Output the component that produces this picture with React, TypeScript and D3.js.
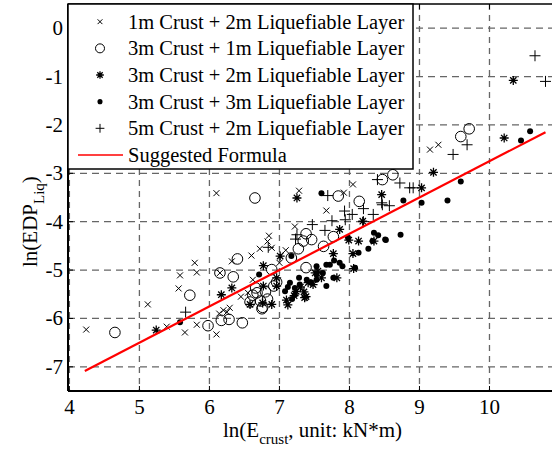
import React from "react";
import * as d3 from "d3";

const xTicks = [4, 5, 6, 7, 8, 9, 10];
const yTicks = [0, -1, -2, -3, -4, -5, -6, -7];

const seriesNames = [
  "1m Crust + 2m Liquefiable Layer",
  "3m Crust + 1m Liquefiable Layer",
  "3m Crust + 2m Liquefiable Layer",
  "3m Crust + 3m Liquefiable Layer",
  "5m Crust + 2m Liquefiable Layer",
];
const formulaName = "Suggested Formula";

const crust1Liq2: [number, number][] = [
  [4.24, -6.23], [5.12, -5.71], [5.39, -6.17], [5.65, -6.29], [5.82, -6.13], [5.58, -5.11],
  [5.56, -5.38], [5.79, -4.85], [5.82, -5.05], [6.10, -3.41], [7.28, -3.36], [6.32, -4.82],
  [6.60, -4.70], [6.72, -4.56], [6.83, -4.41], [6.85, -4.29], [6.89, -4.54], [7.09, -4.59],
  [7.22, -4.10], [7.67, -3.77], [7.92, -3.40], [8.05, -3.23], [6.15, -5.06], [6.10, -6.33],
  [6.14, -5.90], [6.25, -5.87], [6.29, -5.78], [9.15, -2.51], [9.27, -2.41], [6.55, -5.47],
  [6.45, -5.55], [6.62, -5.20], [6.20, -5.83], [7.00, -4.85],
];
const crust3Liq1: [number, number][] = [
  [4.65, -6.29], [5.72, -5.52], [5.98, -6.15], [6.17, -6.04], [6.28, -6.02], [6.47, -6.09],
  [6.58, -5.66], [6.75, -5.80], [6.65, -3.51], [6.15, -5.06], [6.34, -5.14], [6.40, -4.77],
  [6.66, -5.37], [6.68, -5.47], [6.80, -5.45], [6.83, -5.60], [6.76, -5.77], [6.73, -5.64],
  [6.89, -4.99], [6.96, -5.25], [6.92, -5.33], [7.17, -4.75], [7.27, -4.56], [7.38, -4.25],
  [7.46, -4.37], [7.34, -4.40], [7.38, -4.95], [7.63, -4.51], [7.77, -4.31], [7.84, -3.47],
  [8.14, -3.58], [8.47, -3.13], [8.62, -3.03], [9.59, -2.24], [9.71, -2.08], [6.62, -5.52],
];
const crust3Liq2: [number, number][] = [
  [5.24, -6.24], [10.34, -1.08], [10.21, -2.27], [9.20, -2.98], [9.03, -3.30], [8.46, -3.44],
  [7.25, -3.51], [7.01, -4.71], [6.77, -4.91], [6.32, -5.37], [6.17, -5.51], [6.58, -5.71],
  [6.76, -5.68], [6.89, -5.71], [7.12, -5.72], [7.38, -5.55], [7.24, -5.44], [7.41, -5.26],
  [7.51, -5.06], [7.77, -4.66], [7.86, -4.16], [7.99, -4.38], [8.13, -4.40], [8.05, -4.66],
  [8.06, -4.97], [8.19, -3.99], [8.35, -4.40], [6.96, -5.16], [7.60, -5.16], [7.82, -5.16],
  [7.48, -5.30], [7.21, -5.53], [7.36, -5.57], [7.55, -5.02], [6.96, -5.33], [6.77, -5.33],
  [7.35, -5.45], [7.10, -5.62], [7.30, -5.35],
];
const crust3Liq3: [number, number][] = [
  [5.58, -6.08], [10.58, -2.13], [10.45, -2.32], [9.59, -3.17], [9.40, -3.56], [9.03, -3.61],
  [8.77, -3.56], [8.73, -4.27], [8.52, -4.38], [7.60, -3.41], [7.17, -4.71], [6.71, -5.09],
  [7.15, -5.26], [7.22, -5.37], [7.28, -5.16], [7.29, -5.30], [7.39, -5.20], [7.22, -5.51],
  [7.08, -5.44], [7.53, -4.92], [7.53, -5.09], [7.62, -5.06], [7.67, -4.89], [7.72, -4.89],
  [7.78, -4.80], [7.86, -4.85], [7.90, -4.92], [7.53, -5.20], [7.67, -5.33], [7.77, -5.16],
  [8.08, -4.95], [7.98, -4.33], [8.13, -4.64], [8.27, -4.56], [8.33, -4.40], [8.35, -4.23],
  [8.41, -4.28], [8.51, -4.37], [7.12, -5.35], [7.18, -5.60], [7.45, -5.25],
];
const crust5Liq2: [number, number][] = [
  [5.66, -5.87], [6.84, -4.53], [7.69, -3.46], [7.93, -3.78], [8.04, -3.85], [8.20, -3.73],
  [8.34, -3.85], [8.46, -3.61], [8.40, -3.13], [7.94, -3.96], [7.75, -3.98], [7.47, -4.06],
  [7.65, -4.18], [7.25, -4.27], [7.23, -4.36], [8.20, -4.00], [8.86, -3.30], [8.91, -3.30],
  [8.72, -3.20], [8.57, -3.67], [8.47, -3.65], [9.48, -2.61], [9.68, -2.41], [10.65, -0.57],
  [10.80, -1.10],
];

// Suggested formula: ln(EDP) = a * ln(E) + b
const formulaSlope = 0.75;
const formulaIntercept = -10.25;
const formulaRange = [4.22, 10.8];

type Kind = "x" | "o" | "star" | "dot" | "plus";

function Marker({ kind, cx, cy, s = 1 }: { kind: Kind; cx: number; cy: number; s?: number }) {
  const st = { stroke: "#000", strokeWidth: 1, fill: "none" };
  if (kind === "x") {
    const h = 3 * s;
    return <path d={`M${cx - h},${cy - h}L${cx + h},${cy + h}M${cx - h},${cy + h}L${cx + h},${cy - h}`} {...st} />;
  }
  if (kind === "o") return <circle cx={cx} cy={cy} r={5.3 * s} {...st} />;
  if (kind === "dot") return <circle cx={cx} cy={cy} r={3 * s} fill="#000" />;
  if (kind === "plus") {
    const h = 5.5 * s;
    return <path d={`M${cx - h},${cy}L${cx + h},${cy}M${cx},${cy - h}L${cx},${cy + h}`} {...st} />;
  }
  const h = 4.5 * s;
  const a = h * 0.7;
  return (
    <path
      d={`M${cx - h},${cy}L${cx + h},${cy}M${cx},${cy - h}L${cx},${cy + h}M${cx - a},${cy - a}L${cx + a},${cy + a}M${cx - a},${cy + a}L${cx + a},${cy - a}`}
      stroke="#000"
      strokeWidth={1.3}
      fill="none"
    />
  );
}

export default function App() {
  const W = 552, H = 453;
  const left = 68, top = 4, bottom = 391, rightPx = 559.5;
  const x = d3.scaleLinear().domain([3.98, 11]).range([left, rightPx]);
  const y = d3.scaleLinear().domain([-7.5, 0.5]).range([bottom, top]);
  const font = "'Liberation Serif', 'Times New Roman', serif";

  const series: { data: [number, number][]; kind: Kind }[] = [
    { data: crust1Liq2, kind: "x" },
    { data: crust3Liq1, kind: "o" },
    { data: crust3Liq2, kind: "star" },
    { data: crust3Liq3, kind: "dot" },
    { data: crust5Liq2, kind: "plus" },
  ];

  const line = d3
    .line<number>()
    .x((d) => x(d))
    .y((d) => y(formulaSlope * d + formulaIntercept));

  const legendTop = 4, legendBottom = 169, legendRight = 413;
  const rowY = (i: number) => 21.7 + i * 26.65;

  return (
    <svg width={W} height={H} style={{ position: "absolute", left: 0, top: 0, background: "#fff" }}>
      <rect x={0} y={0} width={W} height={H} fill="#fff" />
      {xTicks.map((t) => (
        <line key={"gx" + t} x1={x(t)} x2={x(t)} y1={top} y2={bottom} stroke="#666" strokeWidth={1.3} strokeDasharray="6,5" />
      ))}
      {yTicks.map((t) => (
        <line key={"gy" + t} x1={left} x2={W} y1={y(t)} y2={y(t)} stroke="#666" strokeWidth={1.3} strokeDasharray="7,5" />
      ))}
      {series.map((s, i) => (
        <g key={i}>
          {s.data.map((d, j) => (
            <Marker key={j} kind={s.kind} cx={x(d[0])} cy={y(d[1])} />
          ))}
        </g>
      ))}
      <path d={line(formulaRange) || ""} stroke="#ff0000" strokeWidth={2.2} fill="none" />
      <line x1={left} x2={left} y1={top} y2={bottom} stroke="#000" strokeWidth={2} />
      <line x1={left} x2={W} y1={bottom} y2={bottom} stroke="#000" strokeWidth={2} />
      <line x1={left} x2={W} y1={top} y2={top} stroke="#000" strokeWidth={1.5} />
      {xTicks.map((t) => (
        <g key={"xt" + t}>
          <line x1={x(t)} x2={x(t)} y1={bottom} y2={bottom - 5} stroke="#000" strokeWidth={1} />
          <line x1={x(t)} x2={x(t)} y1={top} y2={top + 5} stroke="#000" strokeWidth={1} />
          <text x={x(t)} y={414} textAnchor="middle" fontFamily={font} fontSize={21} fill="#000">
            {t}
          </text>
        </g>
      ))}
      {yTicks.map((t) => (
        <g key={"yt" + t}>
          <line x1={left} x2={left + 5} y1={y(t)} y2={y(t)} stroke="#000" strokeWidth={1} />
          <text x={63} y={y(t) + 7} textAnchor="end" fontFamily={font} fontSize={21} fill="#000">
            {t === 0 ? "0" : "-" + Math.abs(t)}
          </text>
        </g>
      ))}
      <text x={223} y={437} fontFamily={font} fontSize={21} fill="#000">
        ln(E<tspan dy={7} fontSize={15}>crust</tspan>
        <tspan dy={-7}>, unit: kN*m)</tspan>
      </text>
      <text transform="translate(37,267) rotate(-90)" fontFamily={font} fontSize={21} fill="#000">
        ln(EDP<tspan dy={7} fontSize={15}>Liq</tspan>
        <tspan dy={-7}>)</tspan>
      </text>
      <rect x={left} y={legendTop} width={legendRight - left} height={legendBottom - legendTop} fill="#fff" stroke="#000" strokeWidth={1.5} />
      {seriesNames.map((n, i) => (
        <g key={"lg" + i}>
          <Marker kind={series[i].kind} cx={100} cy={rowY(i)} s={series[i].kind === "x" ? 0.8 : series[i].kind === "plus" ? 0.8 : 0.85} />
          <text x={128} y={rowY(i) + 7} fontFamily={font} fontSize={20.5} fill="#000">
            {n}
          </text>
        </g>
      ))}
      <line x1={78} x2={123} y1={rowY(5)} y2={rowY(5)} stroke="#ff0000" strokeWidth={1.5} />
      <text x={128} y={rowY(5) + 7} fontFamily={font} fontSize={20.5} fill="#000">
        {formulaName}
      </text>
    </svg>
  );
}
